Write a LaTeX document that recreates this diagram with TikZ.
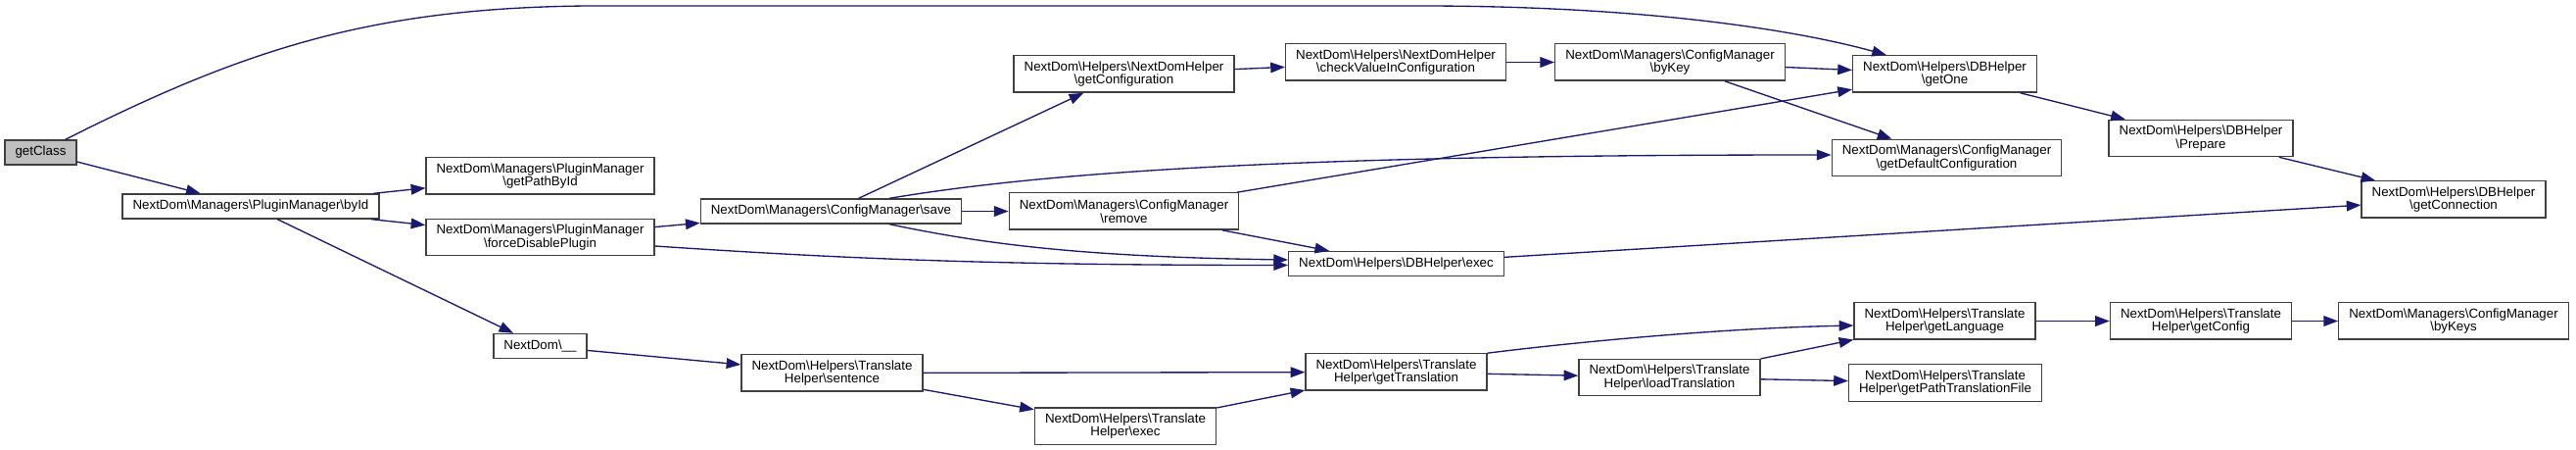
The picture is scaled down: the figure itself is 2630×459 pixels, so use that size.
\documentclass[tikz,border=0pt]{standalone}
\usepackage{fontspec}
\setsansfont{Liberation Sans}
\usepackage{tikz}
\usetikzlibrary{arrows.meta,positioning,calc}
\definecolor{edgec}{HTML}{191970}
\definecolor{boxc}{HTML}{404040}
\definecolor{rootc}{HTML}{BFBFBF}
\tikzset{
  fn/.style={draw=boxc,fill=white,line width=1pt,inner xsep=7.9pt,inner ysep=0pt,minimum height=18.75pt,
             align=center,font=\sffamily\fontsize{10}{10.3}\selectfont},
  fn2/.style={fn,minimum height=28pt},
  call/.style={-{Triangle[length=11pt,width=8pt]},line width=1pt,draw=edgec},
}
\newcommand{\slsh}{\textbackslash}

\begin{document}
\begin{tikzpicture}[x=0.75pt,y=-0.75pt]
  \useasboundingbox (0,0) rectangle (2630,459);
  \node[fn,fill=rootc] (gc) at (41.5,155.5) {getClass};
  \node[fn]  (byid)     at (256,210.5)  {NextDom\slsh Managers\slsh PluginManager\slsh byId};
  \node[fn2] (pathbyid) at (551.5,179.5) {NextDom\slsh Managers\slsh PluginManager\\\slsh getPathById};
  \node[fn2] (forcedis) at (551.5,242)   {NextDom\slsh Managers\slsh PluginManager\\\slsh forceDisablePlugin};
  \node[fn]  (undersc)  at (551.5,353)   {NextDom\slsh\_\_};
  \node[fn]  (save)     at (848.5,215.5) {NextDom\slsh Managers\slsh ConfigManager\slsh save};
  \node[fn2] (sentence) at (849.5,380.5) {NextDom\slsh Helpers\slsh Translate\\Helper\slsh sentence};
  \node[fn2] (getconf)  at (1147.5,75.5) {NextDom\slsh Helpers\slsh NextDomHelper\\\slsh getConfiguration};
  \node[fn2] (remove)   at (1147.5,215.5) {NextDom\slsh Managers\slsh ConfigManager\\\slsh remove};
  \node[fn2] (threxec)  at (1149,434.5)  {NextDom\slsh Helpers\slsh Translate\\Helper\slsh exec};
  \node[fn2] (checkval) at (1425,63.5)   {NextDom\slsh Helpers\slsh NextDomHelper\\\slsh checkValueInConfiguration};
  \node[fn]  (dbexec)   at (1425.5,269)  {NextDom\slsh Helpers\slsh DBHelper\slsh exec};
  \node[fn2] (gettrans) at (1425.5,379.5) {NextDom\slsh Helpers\slsh Translate\\Helper\slsh getTranslation};
  \node[fn2] (bykey)    at (1705,63.5)   {NextDom\slsh Managers\slsh ConfigManager\\\slsh byKey};
  \node[fn2] (loadtrans) at (1704.5,385) {NextDom\slsh Helpers\slsh Translate\\Helper\slsh loadTranslation};
  \node[fn2] (getone)   at (1985.5,75.5) {NextDom\slsh Helpers\slsh DBHelper\\\slsh getOne};
  \node[fn2] (getdefault) at (1987.5,161) {NextDom\slsh Managers\slsh ConfigManager\\\slsh getDefaultConfiguration};
  \node[fn2] (getlang)  at (1985.5,327.5) {NextDom\slsh Helpers\slsh Translate\\Helper\slsh getLanguage};
  \node[fn2] (getpathtf) at (1986,390.5) {NextDom\slsh Helpers\slsh Translate\\Helper\slsh getPathTranslationFile};
  \node[fn2] (prepare)  at (2247,141)    {NextDom\slsh Helpers\slsh DBHelper\\\slsh Prepare};
  \node[fn2] (getconfig) at (2247,327.5) {NextDom\slsh Helpers\slsh Translate\\Helper\slsh getConfig};
  \node[fn2] (getconn)  at (2505,203.5)  {NextDom\slsh Helpers\slsh DBHelper\\\slsh getConnection};
  \node[fn2] (bykeys)   at (2505,327.5)  {NextDom\slsh Managers\slsh ConfigManager\\\slsh byKeys};
  % straight calls
  \foreach \a/\b in {gc/byid,byid/pathbyid,byid/forcedis,byid/undersc,forcedis/save,save/getconf,save/remove,
                     getconf/checkval,checkval/bykey,bykey/getone,bykey/getdefault,remove/getone,remove/dbexec,
                     getone/prepare,prepare/getconn,dbexec/getconn,undersc/sentence,sentence/gettrans,
                     sentence/threxec,threxec/gettrans,gettrans/loadtrans,loadtrans/getlang,loadtrans/getpathtf,
                     getlang/getconfig,getconfig/bykeys}{ \draw[call] (\a) -- (\b); }
  % curved calls
  \draw[call] ($(gc.north east)+(-12,0)$) .. controls (250,50) and (380,8) .. (600,6) -- (1450,6)
              .. controls (1700,6) and (1850,35) .. ($(getone.north)+(-59.5,0)$);
  \draw[call] ($(forcedis.east)+(0,9)$) .. controls (850,263) and (1000,270.5) .. ($(dbexec.west)+(0,1.5)$);
  \draw[call] ($(save.south)+(59.5,0)$) .. controls (1000,248) and (1100,262) .. ($(dbexec.west)+(0,-4)$);
  \draw[call] ($(save.north)+(59.5,0)$) .. controls (1100,170) and (1400,158) .. ($(getdefault.west)+(0,-3)$);
  \draw[call] (gettrans.north east) .. controls (1600,350) and (1750,335) .. ($(getlang.west)+(0,4.5)$);
\end{tikzpicture}
\end{document}
